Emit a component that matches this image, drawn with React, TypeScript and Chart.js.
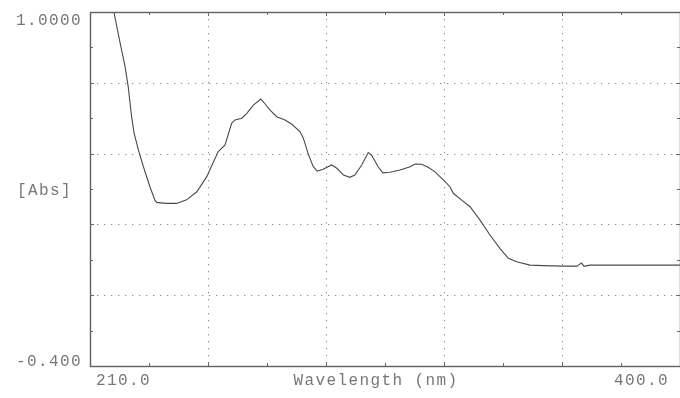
import React, { useEffect, useRef } from "react";
import { Chart, registerables } from "chart.js";

Chart.register(...registerables);

// ---- data ----
const wavelengths = [
  217.7, 219.7, 221.3, 222.3, 223.4, 224.2, 225.6, 227.2, 229.3, 230.9,
  231.5, 234.5, 237.9, 241.1, 244.4, 247.6, 249.6, 251.3, 253.5, 255.6,
  256.7, 258.9, 260.5, 262.6, 265.0, 265.8, 268.0, 270.1, 272.8, 275.0,
  277.6, 278.7, 280.3, 281.9, 283.2, 285.1, 287.8, 289.5, 291.6, 293.7,
  295.3, 297.5, 299.6, 300.7, 302.8, 304.3, 306.6, 309.8, 313.1, 314.7,
  316.8, 318.9, 321.1, 323.8, 325.9, 327.0, 329.7, 332.4, 335.6, 338.8,
  342.0, 344.7, 347.4, 351.7, 356.0, 362.4, 366.7, 367.5, 368.3, 369.1,
  371.0, 380.0, 390.0, 400.0,
];
const absorbance = [
  1.0, 0.877, 0.784, 0.705, 0.586, 0.521, 0.454, 0.388, 0.309, 0.256,
  0.247, 0.243, 0.243, 0.257, 0.289, 0.349, 0.403, 0.448, 0.474, 0.56,
  0.573, 0.58, 0.599, 0.632, 0.656, 0.645, 0.612, 0.586, 0.573, 0.556,
  0.527, 0.501, 0.438, 0.388, 0.371, 0.378, 0.395, 0.382, 0.355, 0.346,
  0.355, 0.395, 0.444, 0.434, 0.388, 0.364, 0.366, 0.375, 0.388, 0.399,
  0.398, 0.386, 0.368, 0.336, 0.309, 0.283, 0.256, 0.23, 0.177, 0.118,
  0.065, 0.026, 0.012, -0.001, -0.003, -0.005, -0.005, 0.001, 0.007, -0.006,
  -0.001, -0.001, -0.001, -0.001,
];

const xMin = 210;
const xMax = 400;
const yMin = -0.4;
const yMax = 1.0;
const xGrid = [248, 286, 324, 362];
const yGrid = [-0.12, 0.16, 0.44, 0.72];
const xMinor = [229, 267, 305, 343, 381];
const yMinor = [-0.26, 0.02, 0.3, 0.58, 0.86];
const yLabelValues = [1.0, -0.4];
const yLabelTexts = ["1.0000", "-0.400"];
const xLabelValues = [210, 400];
const xLabelTexts = ["210.0", "400.0"];
const xTitle = "Wavelength (nm)";
const yTitle = "[Abs]";

const FONT = '16px "Liberation Mono", "DejaVu Sans Mono", monospace';
const TEXT_COLOR = "#777777";

const framePlugin = {
  id: "framePlugin",
  beforeDatasetsDraw(chart: any) {
    const { ctx, chartArea, scales } = chart;
    const { left, right, top, bottom } = chartArea;
    const x = scales.x;
    const y = scales.y;
    ctx.save();
    ctx.strokeStyle = "#8c8c8c";
    ctx.lineWidth = 1;
    ctx.setLineDash([1.3, 5.7]);
    for (const v of xGrid) {
      const px = Math.round(x.getPixelForValue(v)) + 0.5;
      ctx.beginPath();
      ctx.moveTo(px, top);
      ctx.lineTo(px, bottom);
      ctx.stroke();
    }
    for (const v of yGrid) {
      const py = Math.round(y.getPixelForValue(v)) + 0.5;
      ctx.beginPath();
      ctx.moveTo(left, py);
      ctx.lineTo(right, py);
      ctx.stroke();
    }
    ctx.restore();
  },
  afterDatasetsDraw(chart: any) {
    const { ctx, chartArea, scales } = chart;
    const { left, right, top, bottom } = chartArea;
    const x = scales.x;
    const y = scales.y;
    ctx.save();
    // frame
    ctx.strokeStyle = "#606060";
    ctx.lineWidth = 1.4;
    ctx.setLineDash([]);
    ctx.strokeRect(left + 0.5, top + 0.5, right - left, bottom - top);
    // ticks
    ctx.lineWidth = 1;
    ctx.strokeStyle = "#666";
    const tick = (x1: number, y1: number, x2: number, y2: number) => {
      ctx.beginPath();
      ctx.moveTo(x1, y1);
      ctx.lineTo(x2, y2);
      ctx.stroke();
    };
    for (const v of [...xMinor, ...xGrid]) {
      const px = Math.round(x.getPixelForValue(v)) + 0.5;
      const len = xGrid.includes(v) ? 4 : 3;
      tick(px, bottom, px, bottom - len);
      tick(px, top, px, top + len);
    }
    for (const v of [...yMinor, ...yGrid]) {
      const py = Math.round(y.getPixelForValue(v)) + 0.5;
      const len = yGrid.includes(v) ? 4 : 3;
      tick(left, py, left + len, py);
      tick(right, py, right - len, py);
    }
    // labels
    ctx.fillStyle = TEXT_COLOR;
    ctx.font = FONT;
    (ctx as any).letterSpacing = "1.4px";
    ctx.textBaseline = "alphabetic";
    ctx.textAlign = "right";
    yLabelValues.forEach((v, i) => {
      const py = y.getPixelForValue(v);
      const base = v === yMax ? py + 13 : py;
      ctx.fillText(yLabelTexts[i], left - 8, base);
    });
    ctx.textAlign = "left";
    ctx.fillText(yTitle, left - 73, (top + bottom) / 2 + 6);
    const xBase = bottom + 19;
    xLabelValues.forEach((v, i) => {
      const px = x.getPixelForValue(v);
      if (v === xMin) {
        ctx.textAlign = "left";
        ctx.fillText(xLabelTexts[i], px + 6, xBase);
      } else {
        ctx.textAlign = "right";
        ctx.fillText(xLabelTexts[i], px - 11, xBase);
      }
    });
    ctx.textAlign = "center";
    ctx.fillText(xTitle, (left + right) / 2 - 9, xBase);
    ctx.restore();
  },
};

export default function App() {
  const ref = useRef<HTMLCanvasElement | null>(null);
  useEffect(() => {
    document.body.style.margin = "0";
    document.body.style.background = "#ffffff";
    const canvas = ref.current;
    if (!canvas) return;
    const points = wavelengths.map((w, i) => ({ x: w, y: absorbance[i] }));
    const chart = new Chart(canvas, {
      type: "line",
      data: {
        datasets: [
          {
            data: points,
            borderColor: "#4a4a4a",
            borderWidth: 1.1,
            pointRadius: 0,
            tension: 0,
            fill: false,
          },
        ],
      },
      options: {
        animation: false,
        responsive: false,
        devicePixelRatio: 1,
        layout: { padding: { left: 90, top: 12, right: 0, bottom: 32 } },
        plugins: { legend: { display: false }, tooltip: { enabled: false } },
        scales: {
          x: {
            type: "linear",
            min: xMin,
            max: xMax,
            display: true,
            grid: { display: false },
            border: { display: false },
            ticks: { display: false },
            afterFit: (s: any) => {
              s.height = 0;
            },
          },
          y: {
            type: "linear",
            min: yMin,
            max: yMax,
            display: true,
            grid: { display: false },
            border: { display: false },
            ticks: { display: false },
            afterFit: (s: any) => {
              s.width = 0;
            },
          },
        },
      },
      plugins: [framePlugin],
    });
    return () => chart.destroy();
  }, []);
  return (
    <canvas
      ref={ref}
      width={680}
      height={398}
      style={{ display: "block", width: 680, height: 398 }}
    />
  );
}
